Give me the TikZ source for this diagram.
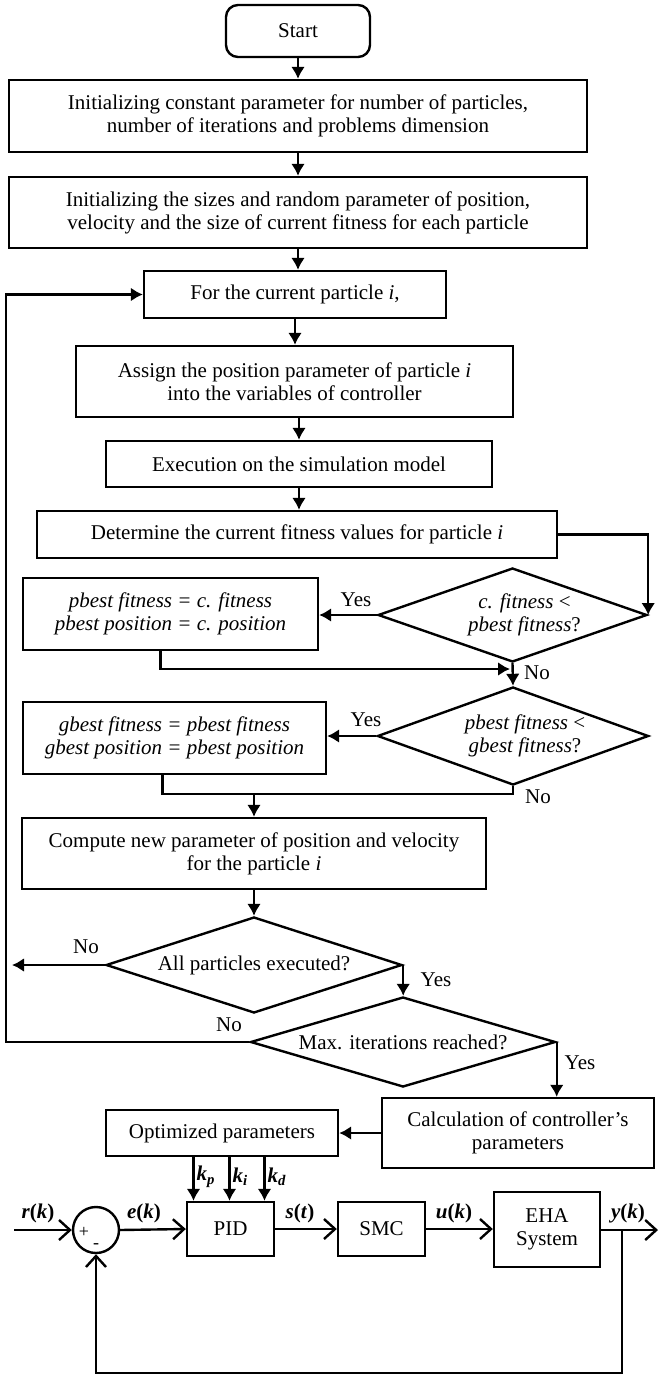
\documentclass[tikz,border=0pt]{standalone}
\usepackage{fontspec}
\setmainfont{Liberation Serif}
\usetikzlibrary{shapes.geometric,arrows.meta}

\tikzset{
  block/.style={draw, line width=2.4pt, align=center, inner sep=0pt},
  decision/.style={draw, diamond, line width=2.4pt, align=center, inner sep=0pt, aspect=3},
  flow/.style={line width=2.4pt, -{Latex[length=12pt,width=14pt]}},
  sig/.style={line width=2.4pt, -{Straight Barb[length=11pt,width=20pt,line width=2.4pt]}},
  wire/.style={line width=2.4pt},
  sym/.style={font=\fontsize{18}{18}\selectfont, inner sep=0pt},
}

\begin{document}
\begin{tikzpicture}[x=1pt, y=-1pt, font=\fontsize{21}{23}\selectfont]
  \useasboundingbox (0,0) rectangle (659,1375);

  \node[block, rounded corners=12pt, minimum width=144pt, minimum height=52pt] (start) at (298,31) {Start};
  \node[block, minimum width=578pt, minimum height=72pt] (init1) at (298,116) {Initializing constant parameter for number of particles,\\ number of iterations and problems dimension};
  \node[block, minimum width=578pt, minimum height=71pt] (init2) at (298,212.5) {Initializing the sizes and random parameter of position,\\ velocity and the size of current fitness for each particle};
  \node[block, minimum width=302pt, minimum height=47pt] (part) at (295,294.5) {For the current particle \textit{i},};
  \node[block, minimum width=437pt, minimum height=71pt] (assign) at (294.5,381.5) {Assign the position parameter of particle \textit{i}\\ into the variables of controller};
  \node[block, minimum width=386pt, minimum height=46pt] (exec) at (299,464) {Execution on the simulation model};
  \node[block, minimum width=520pt, minimum height=47pt] (curfit) at (297,534.5) {Determine the current fitness values for particle \textit{i}};

  \node[decision, minimum width=269pt, minimum height=94pt] (cmp1) at (512.5,615) {\hspace*{24pt}\textit{c. fitness} <\\ \hspace*{24pt}\textit{pbest fitness}?};
  \node[block, minimum width=295pt, minimum height=72pt] (pbest) at (170.5,614) {\itshape pbest fitness = c. fitness\\ \itshape pbest position = c. position};
  \node[decision, minimum width=271pt, minimum height=98pt] (cmp2) at (513,736) {\hspace*{24pt}\textit{pbest fitness} <\\ \hspace*{24pt}\textit{gbest fitness}?};
  \node[block, minimum width=303pt, minimum height=72pt] (gbest) at (174.5,738) {\itshape gbest fitness = pbest fitness\\ \itshape gbest position = pbest position};

  \node[block, minimum width=464pt, minimum height=71pt] (update) at (254,853.5) {Compute new parameter of position and velocity\\ for the particle \textit{i}};
  \node[decision, minimum width=296pt, minimum height=96pt] (allp) at (254,965) {All particles executed?};
  \node[decision, minimum width=305pt, minimum height=90pt] (maxit) at (403,1042) {Max. iterations reached?};

  \node[block, minimum width=272pt, minimum height=70pt] (calc) at (518,1133) {Calculation of controller’s\\ parameters};
  \node[block, minimum width=232pt, minimum height=46pt] (opt) at (222,1133) {Optimized parameters};

  \node[draw, circle, line width=2.4pt, minimum size=46pt, inner sep=0pt] (sum) at (96,1230) {};
  \node[sym] (plus) at (84,1232) {+};
  \node[sym] (minus) at (96,1246) {-};
  \node[block, minimum width=87pt, minimum height=54pt] (pid) at (230.5,1229) {PID};
  \node[block, minimum width=87pt, minimum height=54pt] (smc) at (381.5,1229) {SMC};
  \node[block, minimum width=106pt, minimum height=75pt] (eha) at (547,1229.5) {EHA\\ System};

  \coordinate (j1) at (513,669);
  \coordinate (j2) at (513,794);
  \coordinate (j3) at (254,794);
  \coordinate (nout) at (12,965);
  \coordinate (loop) at (6,1042);
  \coordinate (rin) at (14,1230);
  \coordinate (yout) at (658,1230);
  \coordinate (ybr) at (622,1230);

  \draw[flow] (start) -- (start.south |- init1.north);
  \draw[flow] (init1.south -| start.south) -- (start.south |- init2.north);
  \draw[flow] (init2.south -| start.south) -- (start.south |- part.north);
  \draw[flow] (part.south) -- (part.south |- assign.north);
  \draw[flow] (assign.south -| exec.north) -- (exec.north);
  \draw[flow] (exec.south) -- (exec.south |- curfit.north);
  \draw[flow] (curfit.east) -| (cmp1.east);
  \draw[flow] (cmp1.west) -- (cmp1.west -| pbest.east);
  \draw[flow] ([xshift=-10pt]pbest.south) |- ([xshift=-3pt]j1);
  \draw[flow] (cmp1.south) -- (cmp2.north);
  \draw[flow] (cmp2.west) -- (cmp2.west -| gbest.east);
  \draw[wire] ([xshift=-12pt]gbest.south) |- (j2) -- (cmp2.south);
  \draw[flow] (j3) -- (update.north);
  \draw[flow] (update.south) -- (allp.north);
  \draw[flow] (allp.west) -- (nout);
  \draw[flow] (allp.east) -- (allp.east |- maxit.north);
  \draw[flow] (maxit.west) -- (loop) |- (part.west);
  \draw[flow] (maxit.east) -- (maxit.east |- calc.north);
  \draw[flow] (calc.west) -- (opt.east);

  \node (yes1) at (356,600) {Yes};
  \node (no1) at (537,673) {No};
  \node (yes2) at (366,720) {Yes};
  \node (no2) at (538,797) {No};
  \node (no3) at (86,947) {No};
  \node (yes3) at (436,980) {Yes};
  \node (no4) at (229,1025) {No};
  \node (yes4) at (580,1063) {Yes};

  \foreach \dx/\sub/\nm in {-37/p/kp, -1/i/ki, 34/d/kd}
    \draw[flow] ([xshift=\dx pt]pid.north |- opt.south) -- ([xshift=\dx pt]pid.north)
      node[pos=0.45, right, inner sep=2pt] (\nm) {\textbf{\textit{k}}\textsubscript{\textbf{\textit{\sub}}}};

  \draw[sig] (rin) -- (sum.west);
  \draw[sig] (sum.east) -- (pid.west);
  \draw[sig] (pid.east) -- (smc.west);
  \draw[sig] (smc.east) -- (eha.west |- smc.east);
  \draw[sig] (eha.east |- yout) -- (yout);
  \draw[sig] (ybr) -- ++(0,143) -| (sum.south);

  \node (rk) at (38,1213) {\textbf{\textit{r}(\textit{k})}};
  \node (ek) at (144,1213) {\textbf{\textit{e}(\textit{k})}};
  \node (st) at (300,1213) {\textbf{\textit{s}(\textit{t})}};
  \node (uk) at (454,1213) {\textbf{\textit{u}(\textit{k})}};
  \node (yk) at (628,1213) {\textbf{\textit{y}(\textit{k})}};
\end{tikzpicture}
\end{document}
